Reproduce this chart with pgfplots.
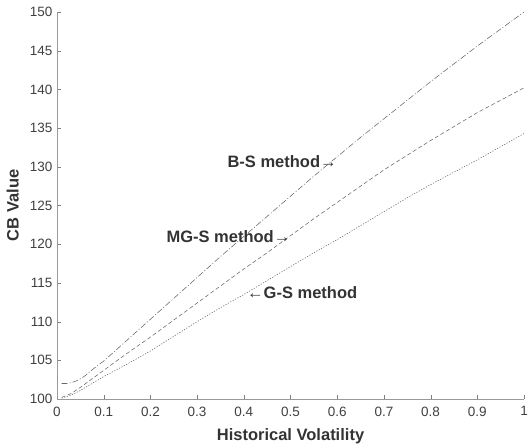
\documentclass[border=0pt]{standalone}
\usepackage{pgfplots}
\pgfplotsset{compat=1.18}
\usepackage{pgfplotstable}
\usepackage{fontspec}
\setmainfont{Liberation Sans}
\pgfplotstableread{
x y
0.01 102.0
0.02 102.0
0.03 102.1
0.04 102.3
0.05 102.6
0.06 103.0
0.07 103.5
0.08 104.0
0.10 104.9
0.15 107.6
0.20 110.3
0.25 113.0
0.30 115.7
0.35 118.4
0.40 121.0
0.45 123.6
0.50 126.2
0.55 128.8
0.60 131.3
0.65 133.8
0.70 136.2
0.75 138.6
0.80 141.0
0.85 143.3
0.90 145.6
0.95 147.8
1.00 150.0
}\bsdata
\pgfplotstableread{
x y
0.01 100.2
0.03 100.7
0.05 101.5
0.075 102.6
0.10 103.7
0.15 105.9
0.20 108.0
0.25 110.2
0.30 112.4
0.35 114.6
0.40 116.8
0.45 118.9
0.50 121.1
0.55 123.3
0.60 125.4
0.65 127.5
0.70 129.6
0.75 131.5
0.80 133.4
0.85 135.2
0.90 137.0
0.95 138.6
1.00 140.2
}\mgsdata
\pgfplotstableread{
x y
0.01 100.1
0.03 100.5
0.05 101.1
0.075 102.0
0.10 102.9
0.15 104.5
0.20 106.2
0.25 108.1
0.30 110.0
0.35 111.8
0.40 113.5
0.45 115.3
0.50 117.1
0.55 118.9
0.60 120.6
0.65 122.4
0.70 124.2
0.75 126.0
0.80 127.7
0.85 129.3
0.90 130.9
0.95 132.6
1.00 134.3
}\gsdata
\begin{document}
\fontsize{13.5}{16}\selectfont
\begin{tikzpicture}
\path[use as bounding box] (-57pt,-48pt) rectangle (472pt,399pt);
\begin{axis}[
  scale only axis, width=467pt, height=387pt,
  xmin=0, xmax=1, ymin=100, ymax=150,
  axis lines*=left,
  axis line style={black!40},
  xtick={0,0.1,0.2,0.3,0.4,0.5,0.6,0.7,0.8,0.9,1},
  xticklabels={0,0.1,0.2,0.3,0.4,0.5,0.6,0.7,0.8,0.9,1},
  ytick={100,105,110,115,120,125,130,135,140,145,150},
  yticklabels={100,105,110,115,120,125,130,135,140,145,150},
  tick align=inside, major tick length=4pt,
  tick style={black!50},
  ticklabel style={font=\fontsize{13.5}{16}\selectfont, text=black!75},
  xticklabel style={yshift=-3pt},
  every axis y label/.style={at={(axis description cs:-0.095,0.5)}, rotate=90, anchor=center},
  every axis x label/.style={at={(axis description cs:0.5,0)}, anchor=center, yshift=-37pt},
  xlabel={\bfseries Historical Volatility},
  ylabel={\bfseries CB Value},
  label style={font=\fontsize{16.5}{18}\selectfont\bfseries, text=black!80},
]
\addplot[black!60, line width=0.55pt, dash pattern=on 6pt off 2pt on 1pt off 2pt] table[x=x,y=y] {\bsdata};
\addplot[black!60, line width=0.55pt, dash pattern=on 4pt off 2.5pt] table[x=x,y=y] {\mgsdata};
\addplot[black!60, line width=0.55pt, dash pattern=on 1.2pt off 1.5pt] table[x=x,y=y] {\gsdata};
\node[font=\fontsize{16.5}{18}\selectfont\bfseries, text=black!80] at (axis cs:0.482,130.7) {B-S method→};
\node[font=\fontsize{16.5}{18}\selectfont\bfseries, text=black!80] at (axis cs:0.367,121.0) {MG-S method→};
\node[font=\fontsize{16.5}{18}\selectfont\bfseries, text=black!80] at (axis cs:0.525,113.8) {←G-S method};
\end{axis}
\end{tikzpicture}
\end{document}
